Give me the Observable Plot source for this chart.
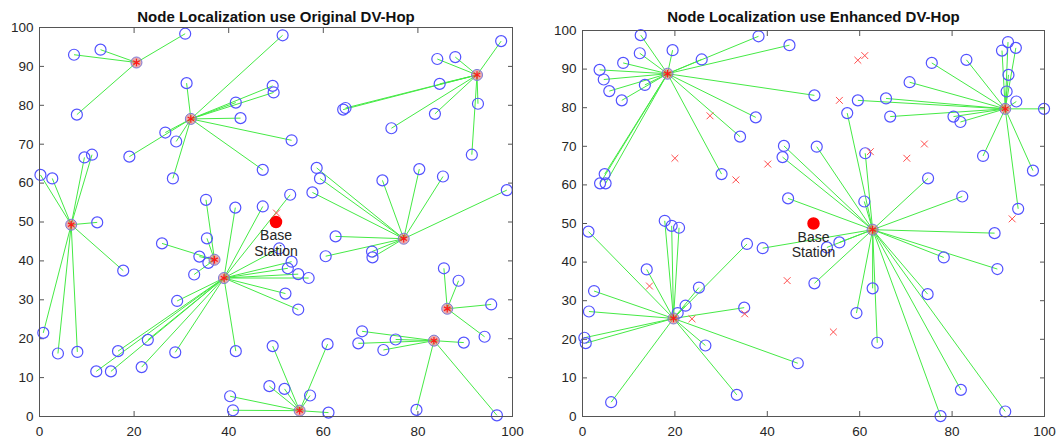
<!DOCTYPE html>
<html>
<head>
<meta charset="utf-8">
<script src="https://cdn.jsdelivr.net/npm/d3@7"></script>
<script src="https://cdn.jsdelivr.net/npm/@observablehq/plot@0.6"></script>
<style>
  html, body { margin: 0; padding: 0; background: #fff; }
  #wrap { display: flex; width: 1056px; height: 444px; }
</style>
</head>
<body>
<div id="wrap"></div>
<script>
// ---- tick labels ----
const xTicks = [0, 20, 40, 60, 80, 100];
const yTicks = [0, 10, 20, 30, 40, 50, 60, 70, 80, 90, 100];

// ---- titles / labels ----
const leftTitle = "Node Localization use Original DV-Hop";
const rightTitle = "Node Localization use Enhanced DV-Hop";
const baseStation = [{x: 50, y: 50, label: "Base\nStation"}];

// ---- left panel: anchors (beacons) ----
const leftAnchors = [
  [20.5, 91], [32, 76.5], [6.7, 49.3], [37, 40.3], [39, 35.6],
  [77, 45.7], [92.5, 87.8], [86.2, 27.7], [83.4, 19.5], [55, 1.5]
];
// left panel: unknown nodes [x, y, anchor index]
const leftNodes = [
  [30.8, 98.4, 0], [12.9, 94.3, 0], [7.3, 93, 0], [7.9, 77.6, 0],
  [31.1, 85.7, 1], [41.5, 80.7, 1], [49.3, 85, 1], [49.5, 83.3, 1], [42.5, 76.7, 1], [51.4, 98, 1],
  [53.3, 71, 1], [26.6, 73, 1], [28.9, 70.7, 1], [19, 66.8, 1], [47.2, 63.4, 1], [28.2, 61.2, 1],
  [0.2, 62.1, 2], [2.7, 61.2, 2], [9.5, 66.6, 2], [11.1, 67.3, 2], [12.2, 49.9, 2], [17.7, 37.5, 2],
  [0.8, 21.5, 2], [3.9, 16.2, 2], [8, 16.6, 2],
  [35.2, 55.7, 3], [25.9, 44.5, 3], [35.4, 45.8, 3], [33.8, 41.1, 3], [35.7, 39.5, 3], [32.7, 36.5, 3],
  [41.4, 53.7, 4], [47.2, 54, 4], [53, 57, 4], [29.1, 29.7, 4], [22.9, 19.7, 4], [16.6, 16.8, 4],
  [12, 11.6, 4], [15.1, 11.6, 4], [21.6, 12.7, 4], [28.7, 16.5, 4], [41.5, 16.8, 4], [53.3, 39.8, 4],
  [52.5, 38.1, 4], [54.7, 36.6, 4], [56.9, 35.6, 4], [52, 31.6, 4], [54.7, 27.5, 4], [50.7, 43.2, 4],
  [58.6, 63.9, 5], [59.3, 61.2, 5], [57.7, 57.6, 5], [72.5, 60.7, 5], [80.3, 63.6, 5], [85.3, 61.7, 5],
  [98.8, 58.2, 5], [62.6, 46.3, 5], [60.5, 41.2, 5], [70.3, 42.4, 5], [70.4, 40.9, 5],
  [97.6, 96.5, 6], [84.1, 91.9, 6], [87.9, 92.4, 6], [84.6, 85.5, 6], [64.7, 79.3, 6], [64.2, 78.9, 6],
  [83.6, 77.8, 6], [74.4, 74.1, 6], [92.7, 80.4, 6], [91.4, 67.3, 6],
  [85.5, 38.1, 7], [88.6, 34.9, 7], [95.5, 28.8, 7], [94.1, 20.5, 7],
  [68.2, 21.9, 8], [67.4, 18.8, 8], [75.3, 19.8, 8], [72.7, 17.1, 8], [89.7, 19, 8], [79.7, 1.7, 8], [96.7, 0.3, 8],
  [49.3, 18.1, 9], [48.6, 7.8, 9], [40.3, 5.2, 9], [40.9, 1.6, 9], [60.9, 18.6, 9], [51.8, 7.1, 9],
  [57.2, 5.4, 9], [61.1, 1, 9]
];
// left panel: unlocalized nodes
const leftUnlocated = [[50.1, 52.3]];

// ---- right panel: anchors ----
const rightAnchors = [[18.4, 88.8], [91.5, 79.7], [62.8, 48.4], [19.7, 25.4]];
// right panel: unknown nodes [x, y, anchor index]
const rightNodes = [
  [12.6, 98.8, 0], [19.5, 94.9, 0], [12.4, 94.1, 0], [8.8, 91.6, 0], [3.7, 89.8, 0], [4.6, 87.3, 0],
  [5.8, 84.3, 0], [8.5, 81.9, 0], [13.5, 85.9, 0], [25.8, 92.5, 0], [38.1, 98.5, 0], [44.8, 96.2, 0],
  [50.2, 83.2, 0], [37.5, 77.5, 0], [34.1, 72.5, 0], [30.1, 62.8, 0], [4.8, 62.8, 0], [3.8, 60.4, 0], [5, 60.4, 0],
  [92.1, 97, 1], [90.8, 94.8, 1], [93.8, 95.5, 1], [92.2, 88.5, 1], [91.8, 84.2, 1], [93.9, 81.6, 1],
  [99.9, 79.7, 1], [75.6, 91.6, 1], [83.1, 92.4, 1], [70.8, 86.6, 1], [65.7, 82.4, 1], [59.6, 81.9, 1],
  [66.6, 77.7, 1], [80.3, 77.7, 1], [81.8, 76.3, 1], [86.7, 67.5, 1], [97.5, 63.7, 1], [94.3, 53.8, 1],
  [43.6, 70.1, 2], [43.3, 67.2, 2], [50.7, 69.9, 2], [44.5, 56.5, 2], [57.3, 78.6, 2], [61.2, 68.2, 2],
  [61, 55.7, 2], [74.8, 61.7, 2], [82.2, 57, 2], [39, 43.6, 2], [50.2, 34.5, 2], [55.6, 45.1, 2],
  [52.9, 43.8, 2], [89.2, 47.5, 2], [78.2, 41.2, 2], [89.8, 38.2, 2], [62.8, 33.2, 2], [74.7, 31.7, 2],
  [59.3, 26.8, 2], [63.8, 19.1, 2], [81.9, 6.9, 2], [77.5, 0.1, 2], [91.5, 1.3, 2],
  [17.8, 50.7, 3], [19.3, 49.4, 3], [20.9, 48.9, 3], [1.3, 47.9, 3], [13.9, 38.1, 3], [2.5, 32.5, 3],
  [1.4, 27.2, 3], [0.4, 20.4, 3], [0.7, 19, 3], [6.2, 3.7, 3], [25.2, 33.4, 3], [22.3, 28.7, 3],
  [20.6, 26.8, 3], [35.6, 44.7, 3], [35, 28.2, 3], [26.6, 18.4, 3], [46.6, 13.8, 3], [33.4, 5.6, 3]
];
// right panel: unlocalized nodes (red x)
const rightUnlocated = [
  [27.6, 77.9], [20, 66.9], [33.2, 61.3], [40.1, 65.4], [59.6, 92.3], [61.1, 93.5], [55.6, 81.9],
  [74, 70.6], [70.2, 66.9], [62.3, 68.6], [93, 51.2], [14.5, 33.8], [23.7, 25.3], [35.1, 26.6],
  [44.3, 35.2], [54.3, 21.9]
];

// ---- styles ----
const AXIS = "#262626";
const LINK = "#45ea45";
const NODE = "#5252ff";

function panel({title, anchors, nodes, unlocated, marginLeft, marginRight, marginTop, titleDy}) {
  const links = nodes.map(([x, y, a]) => ({x1: anchors[a][0], y1: anchors[a][1], x2: x, y2: y}));
  return Plot.plot({
    width: 528,
    height: 444,
    marginLeft, marginRight, marginTop, marginBottom: 28,
    x: {domain: [0, 100]},
    y: {domain: [0, 100]},
    style: {fontFamily: "'Liberation Sans', Arial, sans-serif", fontSize: "13.5px", color: AXIS, background: "#fff", overflow: "visible"},
    marks: [
      Plot.axisX({ticks: xTicks, tickSize: -5, tickPadding: 15, label: null, fontSize: 13.5, stroke: "#555"}),
      Plot.axisX({anchor: "top", ticks: xTicks, tickSize: -5, tickFormat: () => "", label: null, stroke: "#555"}),
      Plot.axisY({ticks: yTicks, tickSize: -5, tickPadding: 11, label: null, fontSize: 13.5, stroke: "#555"}),
      Plot.axisY({anchor: "right", ticks: yTicks, tickSize: -5, tickFormat: () => "", label: null, stroke: "#555"}),
      Plot.link(links, {x1: "x1", y1: "y1", x2: "x2", y2: "y2", stroke: LINK, strokeWidth: 1}),
      Plot.dot(nodes, {x: d => d[0], y: d => d[1], r: 5.5, stroke: NODE, strokeWidth: 1.2, fill: "none"}),
      Plot.dot(unlocated, {x: d => d[0], y: d => d[1], r: 3.2, symbol: "times", stroke: "#ff4d4d", strokeWidth: 1}),
      Plot.dot(anchors, {x: d => d[0], y: d => d[1], r: 5.5, fill: "#d86a6a", fillOpacity: 0.55, stroke: "#7a7ad8", strokeWidth: 1}),
      Plot.dot(anchors, {x: d => d[0], y: d => d[1], r: 3.5, symbol: "asterisk", stroke: "#ff1a1a", strokeWidth: 1.2}),
      Plot.dot(baseStation, {x: "x", y: "y", r: 5.5, fill: "#ff0000", stroke: "#ff0000"}),
      Plot.text(baseStation, {x: "x", y: "y", text: "label", dy: 7, lineAnchor: "top", fontSize: 14, lineHeight: 1.12, fill: AXIS}),
      Plot.frame({stroke: "#555", strokeWidth: 1}),
      Plot.text([title], {frameAnchor: "top", dy: titleDy, lineAnchor: "bottom", fontSize: 15, fontWeight: "bold", fill: "#111"})
    ]
  });
}

const wrap = document.getElementById("wrap");
wrap.append(panel({title: leftTitle, anchors: leftAnchors, nodes: leftNodes, unlocated: leftUnlocated,
  marginLeft: 39, marginRight: 16, marginTop: 27, titleDy: -6}));
wrap.append(panel({title: rightTitle, anchors: rightAnchors, nodes: rightNodes, unlocated: rightUnlocated,
  marginLeft: 54, marginRight: 12, marginTop: 30, titleDy: -9}));
</script>
</body>
</html>
